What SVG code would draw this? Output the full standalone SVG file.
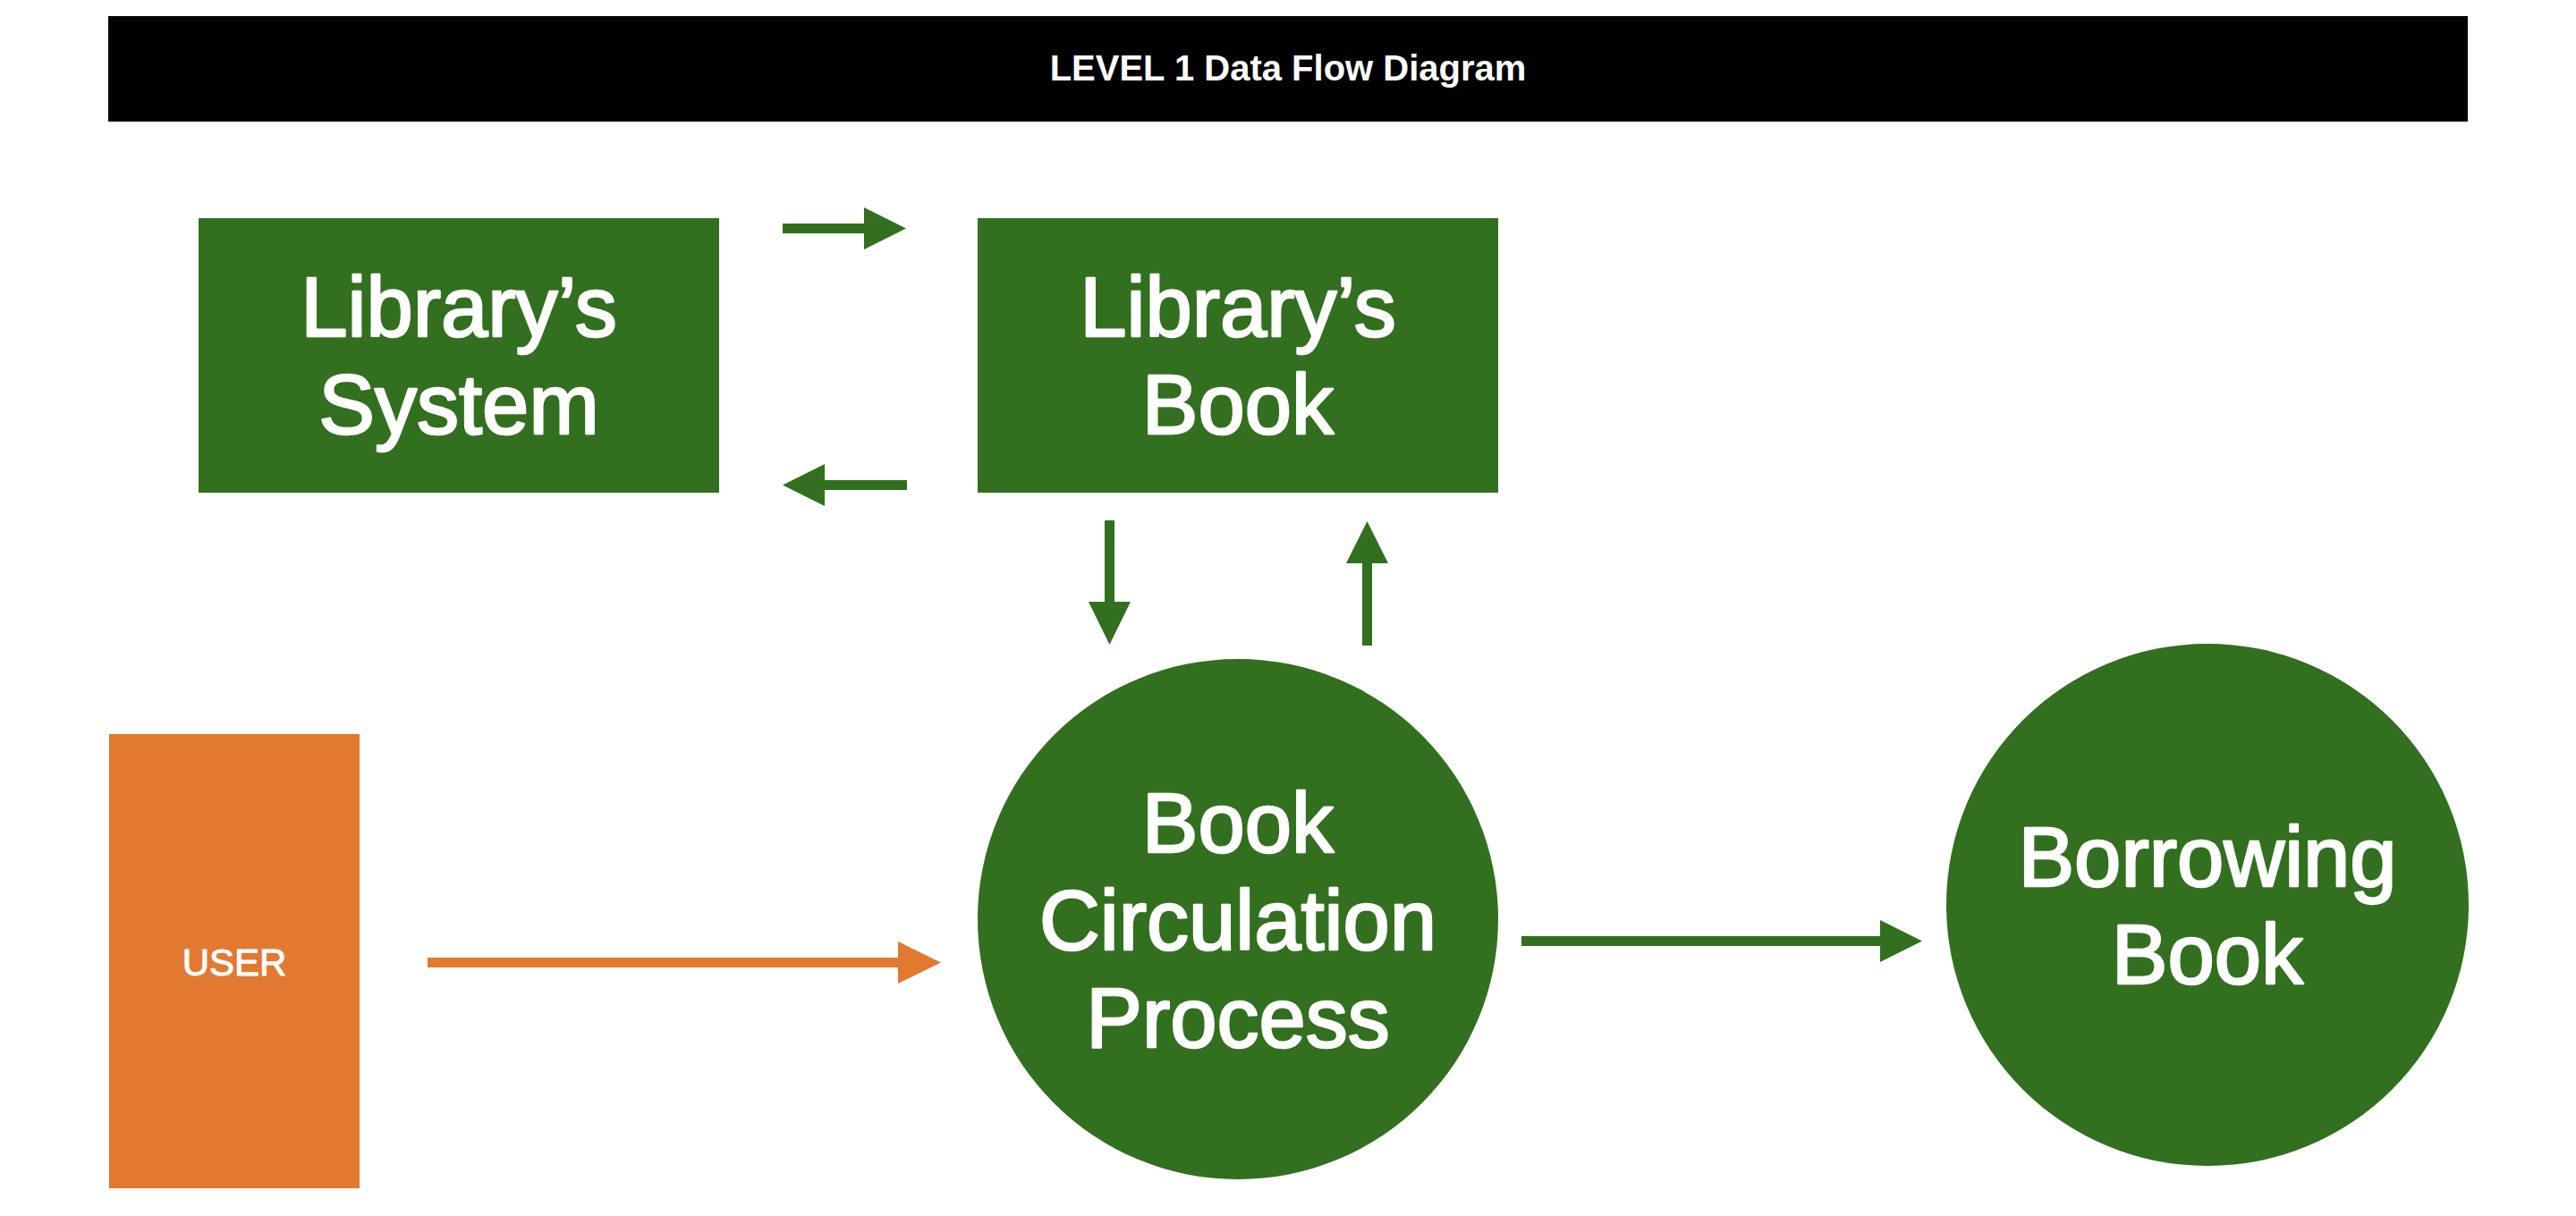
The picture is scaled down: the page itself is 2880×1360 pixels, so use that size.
<svg xmlns="http://www.w3.org/2000/svg" width="2880" height="1360" viewBox="0 0 2880 1360">
<style>
.g{fill:#326F1F}
.o{fill:#E27930}
.t{font-family:"Liberation Sans",Arial,Helvetica,sans-serif;fill:#ffffff;text-anchor:middle}
.big{font-size:94px;stroke:#ffffff;stroke-width:2.5px;stroke-linejoin:round}
.usr{font-size:42px;stroke:#ffffff;stroke-width:1px;stroke-linejoin:round}
</style>
<rect width="2880" height="1360" fill="#ffffff"/>
<g id="title">
<rect x="121" y="18" width="2638" height="118" fill="#000000"/>
<text class="t" x="1440" y="90" font-size="40" font-weight="bold">LEVEL 1 Data Flow Diagram</text>
</g>
<g id="libsystem">
<rect class="g" x="222" y="244" width="582" height="307"/>
<text class="t big" x="513" y="376">Library’s</text>
<text class="t big" x="513" y="485">System</text>
</g>
<g id="libbook">
<rect class="g" x="1093" y="244" width="582" height="307"/>
<text class="t big" x="1384" y="376">Library’s</text>
<text class="t big" x="1384" y="485">Book</text>
</g>
<g id="user">
<rect class="o" x="122" y="821" width="280" height="508"/>
<text class="t usr" x="262" y="1091">USER</text>
</g>
<g id="process">
<circle class="g" cx="1384" cy="1028" r="291"/>
<text class="t big" x="1384" y="953">Book</text>
<text class="t big" x="1384" y="1062">Circulation</text>
<text class="t big" x="1384" y="1171">Process</text>
</g>
<g id="borrowing">
<circle class="g" cx="2468" cy="1012" r="292"/>
<text class="t big" x="2468" y="991">Borrowing</text>
<text class="t big" x="2468" y="1100">Book</text>
</g>
<g id="connectors">
<polygon class="g" points="875,250 966,250 966,232 1013,255.5 966,279 966,261 875,261"/>
<polygon class="g" points="1014,537 922,537 922,519 875,542.5 922,566 922,548 1014,548"/>
<polygon class="g" points="1235,582 1246,582 1246,673 1264,673 1240.5,721 1217,673 1235,673"/>
<polygon class="g" points="1523,722 1534,722 1534,630 1552,630 1528.5,583 1505,630 1523,630"/>
<polygon class="o" points="478,1071 1004,1071 1004,1053 1052,1076.5 1004,1100 1004,1082 478,1082"/>
<polygon class="g" points="1701,1047 2102,1047 2102,1029 2149,1052.5 2102,1076 2102,1058 1701,1058"/>
</g>
</svg>
